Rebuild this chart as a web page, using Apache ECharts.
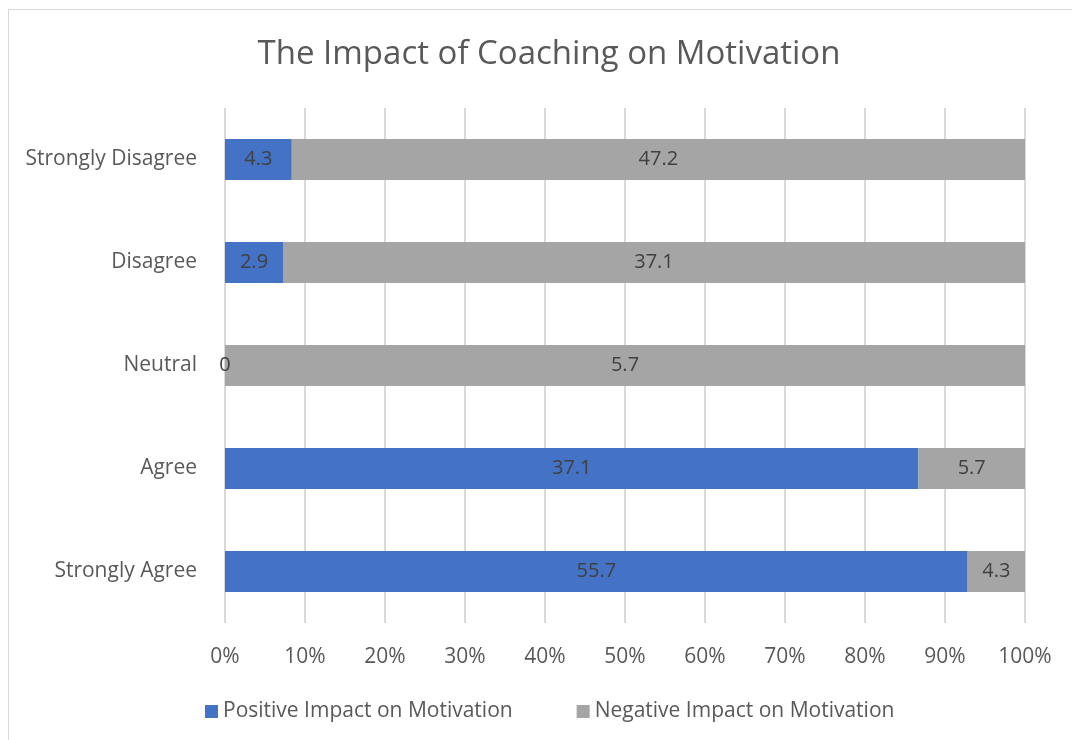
<!DOCTYPE html>
<html><head><meta charset="utf-8">
<script src="https://cdn.jsdelivr.net/npm/echarts@6/dist/echarts.min.js"></script>
<style>
html,body{margin:0;padding:0;background:#fff;}
#frame{position:absolute;left:8px;top:9px;width:1200px;height:900px;border:1px solid #D9D9D9;box-sizing:border-box;}
#chart{position:absolute;left:0;top:0;width:1072px;height:740px;}
</style></head>
<body>
<div id="frame"></div>
<div id="chart"></div>
<script>
const categories = ['Strongly Agree', 'Agree', 'Neutral', 'Disagree', 'Strongly Disagree'];
const positiveValues = [55.7, 37.1, 0, 2.9, 4.3];
const negativeValues = [4.3, 5.7, 5.7, 37.1, 47.2];
const seriesNames = ['Positive Impact on Motivation', 'Negative Impact on Motivation'];
const xTicks = [0, 10, 20, 30, 40, 50, 60, 70, 80, 90, 100];

const totals = categories.map((c, i) => positiveValues[i] + negativeValues[i]);
const pct = arr => arr.map((v, i) => ({ value: totals[i] ? v / totals[i] * 100 : 0, raw: v }));

const FONT = '"Open Sans", sans-serif';
const chart = echarts.init(document.getElementById('chart'));
const labelStyle = {
  show: true, position: 'inside', color: '#404040', fontFamily: FONT, fontSize: 20,
  formatter: p => String(p.data.raw)
};
chart.setOption({
  animation: false,
  title: {
    text: 'The Impact of Coaching on Motivation', left: 544, top: 33, textAlign: 'center',
    textStyle: { fontFamily: FONT, fontSize: 33, fontWeight: 'normal', color: '#595959' }
  },
  legend: {
    bottom: 13, left: 200, itemGap: 64, itemWidth: 13, itemHeight: 13, icon: 'rect',
    textStyle: { fontFamily: FONT, fontSize: 21, color: '#595959' },
    data: seriesNames
  },
  grid: { left: 225, right: 47, top: 108, bottom: 117, containLabel: false },
  xAxis: {
    type: 'value', min: xTicks[0], max: xTicks[xTicks.length - 1], interval: 10,
    axisLine: { show: false }, axisTick: { show: false },
    splitLine: { lineStyle: { color: '#D9D9D9', width: 2 } },
    axisLabel: { formatter: '{value}%', fontFamily: FONT, fontSize: 21, color: '#595959', margin: 24 }
  },
  yAxis: {
    type: 'category', data: categories,
    axisLine: { show: false }, axisTick: { show: false },
    axisLabel: { fontFamily: FONT, fontSize: 21, color: '#595959', margin: 28, padding: [4, 0, 0, 0] }
  },
  series: [
    { name: seriesNames[0], type: 'bar', stack: 's', data: pct(positiveValues), barWidth: 41,
      itemStyle: { color: '#4472C4' }, label: labelStyle },
    { name: seriesNames[1], type: 'bar', stack: 's', data: pct(negativeValues), barWidth: 41,
      itemStyle: { color: '#A5A5A5' }, label: labelStyle }
  ]
});
</script>
</body></html>
